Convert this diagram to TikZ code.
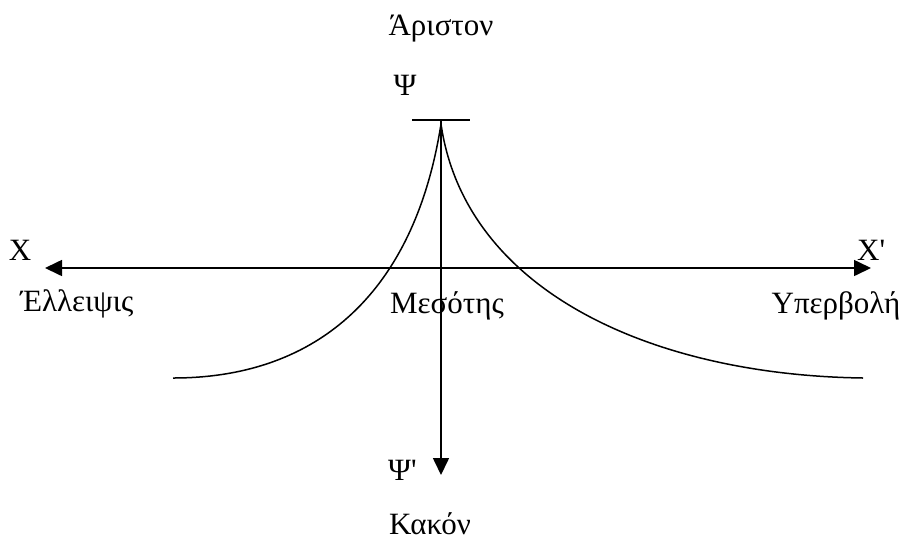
\documentclass[tikz,border=0pt]{standalone}
\usepackage{fontspec}
\setmainfont{Liberation Serif}
\usetikzlibrary{arrows.meta}

\begin{document}
\begin{tikzpicture}[x=1pt,y=-1pt,>={Triangle[length=17pt,width=16pt]}]
    \tikzstyle{lbl}=[inner sep=0pt,anchor=base,font=\fontsize{31}{36}\selectfont]
    \tikzstyle{axis}=[line width=1.6pt]
    \tikzstyle{curve}=[line width=1.5pt]
    \useasboundingbox (0,0) rectangle (899,539);
    % labels
    \node[lbl]                  (ariston)   at (441,35)  {Άριστον};
    \node[lbl]                  (psi)       at (405,95)  {Ψ};
    \node[lbl]                  (x)         at (20,260)  {X};
    \node[lbl,anchor=base west] (xp)        at (857,260) {X\textquotesingle};
    \node[lbl]                  (elleipsis) at (77,311)  {Έλλειψις};
    \node[lbl]                  (mesotes)   at (447,313) {Μεσότης};
    \node[lbl]                  (hyperbole) at (836,313) {Υπερβολή};
    \node[lbl,anchor=base west] (psip)      at (388,480) {Ψ\textquotesingle};
    \node[lbl]                  (kakon)     at (430,534) {Κακόν};
    % axes
    \coordinate (xl)   at (45,268);
    \coordinate (xr)   at (871,268);
    \coordinate (top)  at (441,120);
    \coordinate (bot)  at (441,475);
    \coordinate (barl) at (412,120);
    \coordinate (barr) at (470,120);
    \coordinate (peak) at (441,124);
    \coordinate (ltail) at (173,378);
    \coordinate (rtail) at (863,378);
    \draw[<->,axis] (xl) -- (xr);
    \draw[->,axis] (top) -- (bot);
    \draw[axis] (barl) -- (barr);
    % curves
    \draw[curve] (ltail) .. controls (320,378) and (415,290) .. (peak);
    \draw[curve] (peak) .. controls (465,290) and (650,375) .. (rtail);
\end{tikzpicture}
\end{document}
